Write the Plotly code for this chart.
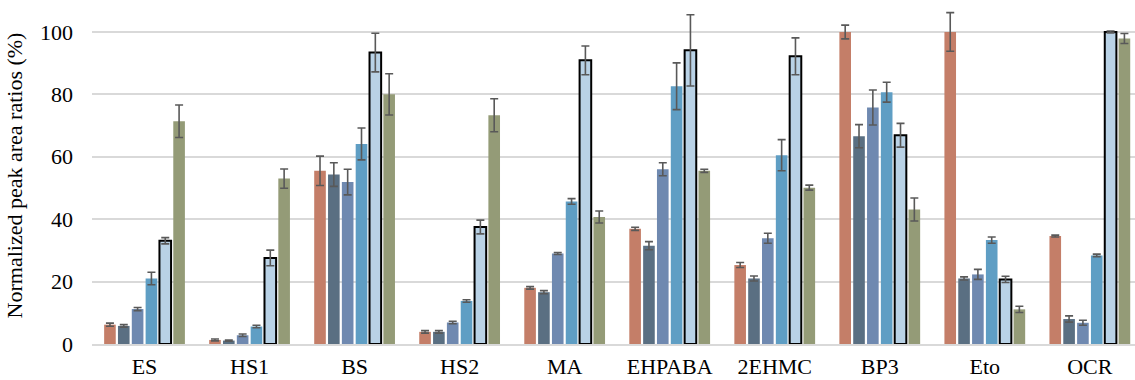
import plotly.graph_objects as go

categories = ["ES", "HS1", "BS", "HS2", "MA", "EHPABA", "2EHMC", "BP3", "Eto", "OCR"]

s1 = [6.2, 1.3, 55.5, 3.9, 18.0, 36.9, 25.3, 100.0, 100.0, 34.6]
e1 = [0.5, 0.3, 4.7, 0.4, 0.4, 0.5, 0.8, 2.2, 6.2, 0.3]
s2 = [5.8, 1.1, 54.3, 3.9, 16.6, 31.5, 21.0, 66.6, 21.0, 8.0]
e2 = [0.4, 0.2, 3.8, 0.4, 0.5, 1.3, 0.8, 3.7, 0.5, 1.0]
s3 = [11.2, 2.8, 51.9, 6.9, 29.0, 56.0, 33.9, 75.8, 22.3, 6.8]
e3 = [0.5, 0.4, 4.1, 0.4, 0.3, 2.1, 1.6, 5.6, 1.6, 0.8]
s4 = [21.0, 5.6, 64.1, 13.8, 45.7, 82.6, 60.5, 80.7, 33.3, 28.4]
e4 = [2.0, 0.4, 5.1, 0.4, 0.9, 7.5, 5.0, 3.2, 1.0, 0.4]
s5 = [33.1, 27.6, 93.4, 37.5, 90.9, 94.1, 92.2, 66.9, 20.7, 100.0]
e5 = [1.0, 2.5, 6.2, 2.2, 4.6, 11.4, 5.9, 3.8, 1.0, 0.3]
s6 = [71.4, 53.0, 80.0, 73.3, 40.7, 55.5, 50.1, 43.1, 11.1, 97.9]
e6 = [5.2, 3.1, 6.6, 5.3, 1.9, 0.5, 0.8, 3.7, 1.0, 1.6]

series = [s1, s2, s3, s4, s5, s6]
errors = [e1, e2, e3, e4, e5, e6]
colors = ["#C47E68", "#5A6F82", "#6F89B0", "#5F9EC4", "#B9D2E6", "#949B77"]
outline_w = [0, 0, 0, 0, 2, 0]

fig = go.Figure()
for i, (vals, errs) in enumerate(zip(series, errors)):
    fig.add_trace(go.Bar(
        x=categories, y=vals,
        marker=dict(color=colors[i], line=dict(color="#000000", width=outline_w[i])),
        error_y=dict(type="data", array=errs, visible=True, color="#595959",
                     thickness=1.6, width=4),
        showlegend=False,
    ))

fig.update_layout(
    width=1135, height=380,
    margin=dict(l=92, r=0, t=7, b=36),
    paper_bgcolor="white", plot_bgcolor="white",
    barmode="group", bargap=0.21, bargroupgap=0.16,
    font=dict(family="Liberation Serif", color="#000000", size=22),
)
fig.update_xaxes(
    range=[-0.5, 9.43], automargin=False,
    showgrid=False, showline=True, linecolor="#D9D9D9", linewidth=1.5,
    ticks="", tickfont=dict(size=22), ticklabelstandoff=2,
)
fig.update_yaxes(
    range=[0, 108], tickvals=[0, 20, 40, 60, 80, 100], automargin=False,
    showgrid=True, gridcolor="#D9D9D9", gridwidth=1.5,
    zeroline=False, showline=False, ticks="",
    tickfont=dict(size=22), ticklabelstandoff=18,
    title=dict(text="Normalized peak area ratios (%)", font=dict(size=22), standoff=11),
)

fig.write_html("out.html", config={"displayModeBar": False},
               post_script="document.body.style.margin='0';document.body.style.padding='0';")
